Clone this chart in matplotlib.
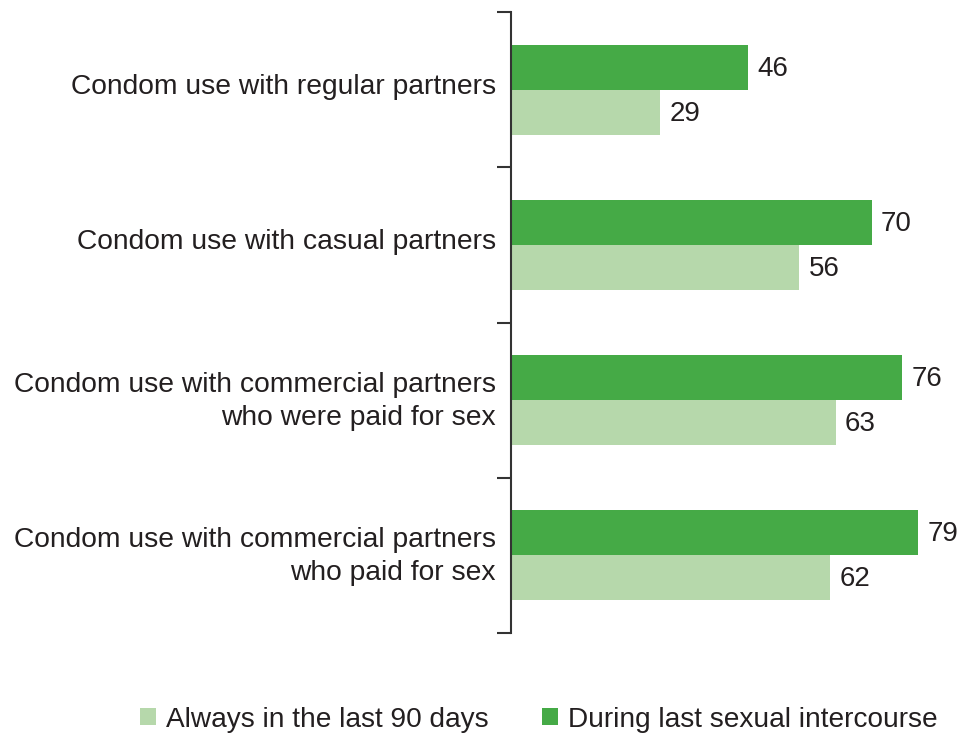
import matplotlib.pyplot as plt
import matplotlib.transforms as mtransforms
import numpy as np

categories = [
    "Condom use with regular partners",
    "Condom use with casual partners",
    "Condom use with commercial partners\nwho were paid for sex",
    "Condom use with commercial partners\nwho paid for sex",
]
last_intercourse = [46, 70, 76, 79]
always_90_days = [29, 56, 63, 62]

dark_green = "#45aa46"
light_green = "#b6d8ab"
text_col = "#231f20"

plt.rcParams["font.family"] = ["Liberation Sans", "DejaVu Sans"]

fig = plt.figure(figsize=(9.59, 7.33), dpi=100)
ax = fig.add_axes([0.5328, 0.1364, 0.462, 0.8472])

y = np.arange(len(categories))
h = 0.29
ax.barh(y - h / 2, last_intercourse, height=h, color=dark_green,
        label="During last sexual intercourse")
ax.barh(y + h / 2, always_90_days, height=h, color=light_green,
        label="Always in the last 90 days")

for yi, v in zip(y - h / 2, last_intercourse):
    ax.text(v + 1.8, yi + 0.01, str(v), va="center", ha="left", fontsize=20, color=text_col)
for yi, v in zip(y + h / 2, always_90_days):
    ax.text(v + 1.8, yi + 0.01, str(v), va="center", ha="left", fontsize=20, color=text_col)

ax.set_xlim(0, 86)
ax.set_ylim(len(categories) - 0.5, -0.5)

# band boundaries get the tick marks, category names sit at band centres
ax.set_yticks(np.arange(-0.5, len(categories), 1.0))
ax.set_yticklabels([])
ax.set_yticks(y, minor=True)
ax.set_yticklabels(categories, minor=True, fontsize=20.3, color=text_col, ha="right",
                   linespacing=1.38)
ax.tick_params(axis="y", which="major", length=10, width=1.5, color="#333333")
ax.tick_params(axis="y", which="minor", length=0, pad=11)
ax.set_xticks([])

# nudge the category names up a little
lift = mtransforms.ScaledTranslation(0, 4 / 72, fig.dpi_scale_trans)
for lbl in ax.get_yticklabels(minor=True):
    lbl.set_transform(lbl.get_transform() + lift)

for s in ["top", "right", "bottom"]:
    ax.spines[s].set_visible(False)
ax.spines["left"].set_linewidth(1.5)
ax.spines["left"].set_color("#333333")

handles, labels = ax.get_legend_handles_labels()
leg = fig.legend(handles[::-1], labels[::-1], loc="center", bbox_to_anchor=(0.562, 0.018),
                 ncol=2, frameon=False, handlelength=0.55, handleheight=0.55,
                 handletextpad=0.38, columnspacing=1.9,
                 prop={"family": ["Liberation Sans"], "size": 20.2})
for t in leg.get_texts():
    t.set_color(text_col)

fig.savefig("out.png", dpi=100)
